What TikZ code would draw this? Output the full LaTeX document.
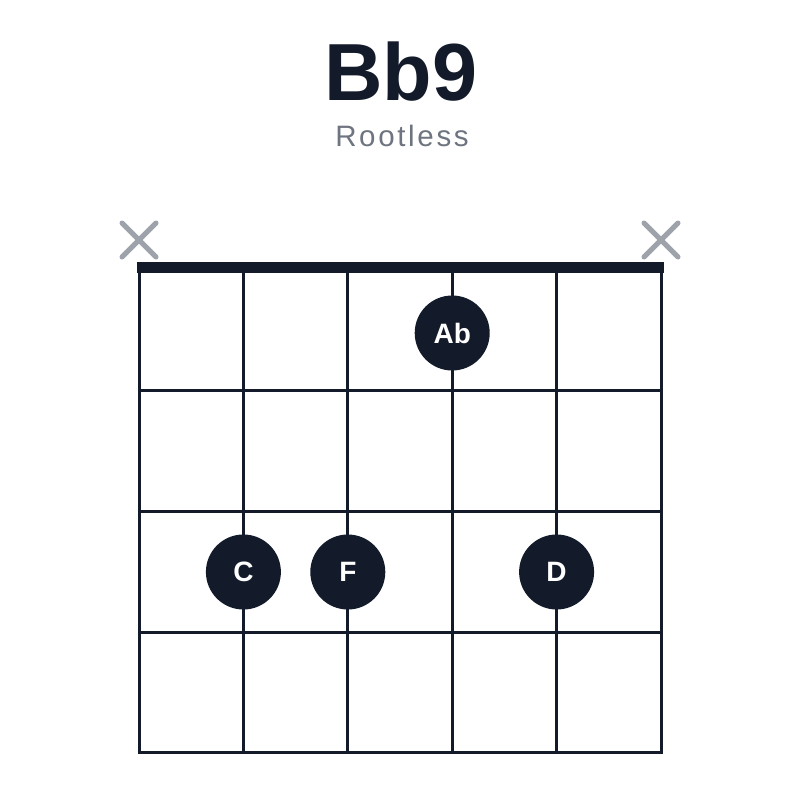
\documentclass[tikz,border=0pt]{standalone}
\usepackage{fontspec}
\setmainfont{Liberation Sans}
\definecolor{ink}{HTML}{131B2B}
\definecolor{xgray}{HTML}{9EA2AA}
\definecolor{subgray}{HTML}{6E7480}
\tikzset{
  gridline/.style={ink, line width=3pt},
  nutline/.style={ink, line width=11pt},
  mute/.style={xgray, line width=5pt, line cap=round},
  fingerdot/.style={circle, fill=ink, minimum size=75pt, inner sep=0pt, text=white, font=\bfseries\fontsize{28}{28}\selectfont},
}
\begin{document}
\begin{tikzpicture}[x=1pt,y=-1pt]
\useasboundingbox (0,0) rectangle (800,800);
\fill[white] (0,0) rectangle (800,800);
\node[ink, font=\bfseries\fontsize{81}{81}\selectfont, anchor=base] (title) at (401,100) {Bb9};
\node[subgray, font=\fontsize{29.5}{29.5}\selectfont\addfontfeatures{LetterSpace=9}, anchor=base] (sub) at (402,146) {Rootless};
% strings
\foreach \x in {139,243.4,347.8,452.2,556.6,661} {
  \draw[gridline] (\x,268) -- (\x,752);
}
% frets
\foreach \y in {390,511,632} {
  \draw[gridline] (139,\y) -- (661,\y);
}
\draw[gridline] (137.5,752) -- (662.5,752);
\draw[nutline] (136.5,267.5) -- (663.5,267.5);
% mutes
\draw[mute] (122,223) -- (156,257) (156,223) -- (122,257);
\draw[mute] (644,223) -- (678,257) (678,223) -- (644,257);
% dots
\node[fingerdot] (ab) at (452.2,333) {Ab};
\node[fingerdot] (c) at (243.4,572) {C};
\node[fingerdot] (f) at (347.8,572) {F};
\node[fingerdot] (d) at (556.6,572) {D};
\end{tikzpicture}
\end{document}
